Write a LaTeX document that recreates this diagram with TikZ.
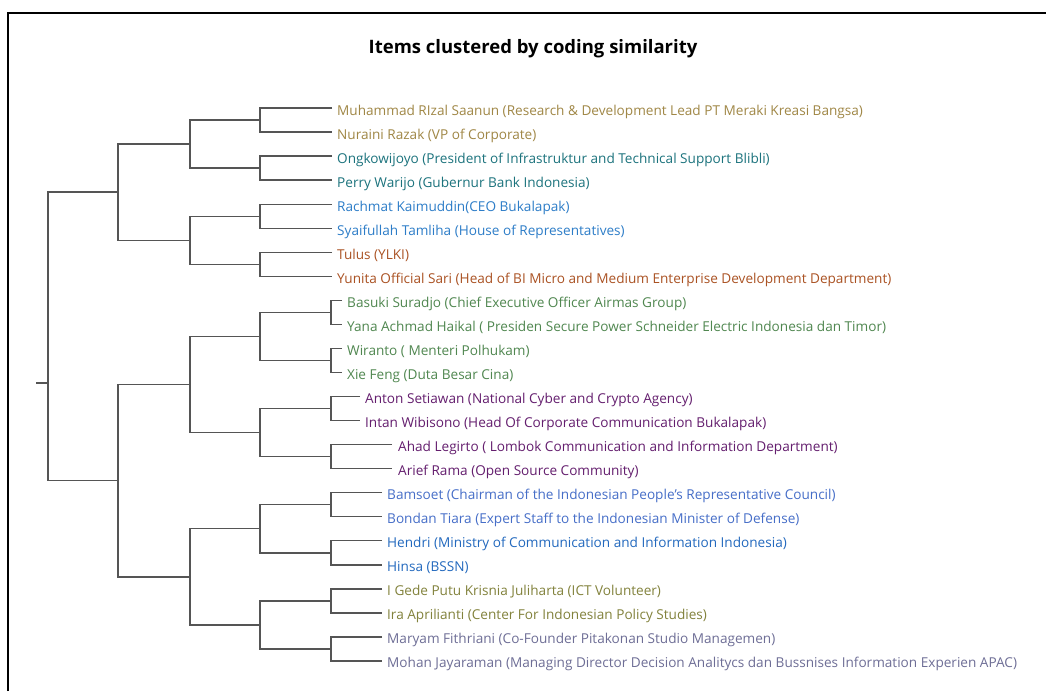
\documentclass[tikz,border=0pt]{standalone}
\usepackage{fontspec}
\setmainfont{Open Sans}
\definecolor{linegray}{RGB}{85,85,85}
\definecolor{cGold}{RGB}{160,135,70}
\definecolor{cTeal}{RGB}{28,115,125}
\definecolor{cBlue}{RGB}{45,125,200}
\definecolor{cRust}{RGB}{170,82,35}
\definecolor{cGreen}{RGB}{80,135,80}
\definecolor{cPurple}{RGB}{100,30,110}
\definecolor{cPeri}{RGB}{70,110,200}
\definecolor{cBlue2}{RGB}{35,105,190}
\definecolor{cOlive}{RGB}{130,130,60}
\definecolor{cSlate}{RGB}{110,110,150}
\begin{document}
\begin{tikzpicture}[x=1pt,y=-1pt,
  link/.style={draw=linegray, line width=1.4pt},
  leaf/.style={anchor=base west, inner sep=0pt, font=\fontsize{13.6}{16}\selectfont},
  frameline/.style={draw=black, line width=2pt}]
\useasboundingbox (0,0) rectangle (1046,691);
\fill[white] (0,0) rectangle (1046,691);
\draw[frameline] (8,691) -- (8,13) -- (1046,13);
\node[anchor=base, inner sep=0pt, font=\bfseries\fontsize{18.5}{22}\selectfont] (title) at (533,53) {Items clustered by coding similarity};

% leaf end coordinates and labels
\coordinate (t0) at (332,108.0);  \node[leaf, text=cGold] (n0) at (337,115.0) {Muhammad RIzal Saanun (Research \& Development Lead PT Meraki Kreasi Bangsa)};
\coordinate (t1) at (332,132.0);  \node[leaf, text=cGold] (n1) at (337,139.0) {Nuraini Razak (VP of Corporate)};
\coordinate (t2) at (332,156.1);  \node[leaf, text=cTeal] (n2) at (337,163.1) {Ongkowijoyo (President of Infrastruktur and Technical Support Blibli)};
\coordinate (t3) at (332,180.1);  \node[leaf, text=cTeal] (n3) at (337,187.1) {Perry Warijo (Gubernur Bank Indonesia)};
\coordinate (t4) at (332,204.2);  \node[leaf, text=cBlue] (n4) at (337,211.2) {Rachmat Kaimuddin(CEO Bukalapak)};
\coordinate (t5) at (332,228.2);  \node[leaf, text=cBlue] (n5) at (337,235.2) {Syaifullah Tamliha (House of Representatives)};
\coordinate (t6) at (332,252.2);  \node[leaf, text=cRust] (n6) at (337,259.2) {Tulus (YLKI)};
\coordinate (t7) at (332,276.3);  \node[leaf, text=cRust] (n7) at (337,283.3) {Yunita Official Sari (Head of BI Micro and Medium Enterprise Development Department)};
\coordinate (t8) at (342,300.3);  \node[leaf, text=cGreen] (n8) at (347,307.3) {Basuki Suradjo (Chief Executive Officer Airmas Group)};
\coordinate (t9) at (342,324.4);  \node[leaf, text=cGreen] (n9) at (347,331.4) {Yana Achmad Haikal ( Presiden Secure Power Schneider Electric Indonesia dan Timor)};
\coordinate (t10) at (342,348.4); \node[leaf, text=cGreen] (n10) at (347,355.4) {Wiranto ( Menteri Polhukam)};
\coordinate (t11) at (342,372.4); \node[leaf, text=cGreen] (n11) at (347,379.4) {Xie Feng (Duta Besar Cina)};
\coordinate (t12) at (360,396.5); \node[leaf, text=cPurple] (n12) at (365,403.5) {Anton Setiawan (National Cyber and Crypto Agency)};
\coordinate (t13) at (360,420.5); \node[leaf, text=cPurple] (n13) at (365,427.5) {Intan Wibisono (Head Of Corporate Communication Bukalapak)};
\coordinate (t14) at (392,444.6); \node[leaf, text=cPurple] (n14) at (398,451.6) {Ahad Legirto ( Lombok Communication and Information Department)};
\coordinate (t15) at (392,468.6); \node[leaf, text=cPurple] (n15) at (398,475.6) {Arief Rama (Open Source Community)};
\coordinate (t16) at (382,492.6); \node[leaf, text=cPeri] (n16) at (387,499.6) {Bamsoet (Chairman of the Indonesian People's Representative Council)};
\coordinate (t17) at (382,516.7); \node[leaf, text=cPeri] (n17) at (387,523.7) {Bondan Tiara (Expert Staff to the Indonesian Minister of Defense)};
\coordinate (t18) at (382,540.7); \node[leaf, text=cBlue2] (n18) at (387,547.7) {Hendri (Ministry of Communication and Information Indonesia)};
\coordinate (t19) at (382,564.8); \node[leaf, text=cBlue2] (n19) at (387,571.8) {Hinsa (BSSN)};
\coordinate (t20) at (382,588.8); \node[leaf, text=cOlive] (n20) at (387,595.8) {I Gede Putu Krisnia Juliharta (ICT Volunteer)};
\coordinate (t21) at (382,612.8); \node[leaf, text=cOlive] (n21) at (387,619.8) {Ira Aprilianti (Center For Indonesian Policy Studies)};
\coordinate (t22) at (382,636.9); \node[leaf, text=cSlate] (n22) at (387,643.9) {Maryam Fithriani (Co-Founder Pitakonan Studio Managemen)};
\coordinate (t23) at (382,660.9); \node[leaf, text=cSlate] (n23) at (387,667.9) {Mohan Jayaraman (Managing Director Decision Analitycs dan Bussnises Information Experien APAC)};

% internal junctions
\coordinate (a1) at (260,120.0);
\coordinate (a2) at (260,168.1);
\coordinate (a3) at (260,216.2);
\coordinate (a4) at (260,264.3);
\coordinate (b1) at (190,144.0);
\coordinate (b2) at (190,240.2);
\coordinate (c1) at (118,192.1);
\coordinate (d1) at (331,312.4);
\coordinate (d2) at (331,360.4);
\coordinate (d3) at (331,408.5);
\coordinate (d4) at (331,456.6);
\coordinate (d5) at (331,504.7);
\coordinate (d6) at (331,552.8);
\coordinate (d7) at (331,600.8);
\coordinate (d8) at (331,648.9);
\coordinate (e1) at (260,336.4);
\coordinate (e2) at (260,432.6);
\coordinate (e3) at (260,528.7);
\coordinate (e4) at (260,624.8);
\coordinate (f1) at (190,384.5);
\coordinate (f2) at (190,576.8);
\coordinate (c2) at (118,480.7);
\coordinate (root) at (48,383);
\coordinate (stub) at (36,383);

% connectors
\draw[link] (t0) -| (a1) |- (t1);
\draw[link] (t2) -| (a2) |- (t3);
\draw[link] (t4) -| (a3) |- (t5);
\draw[link] (t6) -| (a4) |- (t7);
\draw[link] (a1) -| (b1) |- (a2);
\draw[link] (a3) -| (b2) |- (a4);
\draw[link] (b1) -| (c1) |- (b2);
\draw[link] (t8) -| (d1) |- (t9);
\draw[link] (t10) -| (d2) |- (t11);
\draw[link] (t12) -| (d3) |- (t13);
\draw[link] (t14) -| (d4) |- (t15);
\draw[link] (t16) -| (d5) |- (t17);
\draw[link] (t18) -| (d6) |- (t19);
\draw[link] (t20) -| (d7) |- (t21);
\draw[link] (t22) -| (d8) |- (t23);
\draw[link] (d1) -| (e1) |- (d2);
\draw[link] (d3) -| (e2) |- (d4);
\draw[link] (d5) -| (e3) |- (d6);
\draw[link] (d7) -| (e4) |- (d8);
\draw[link] (e1) -| (f1) |- (e2);
\draw[link] (e3) -| (f2) |- (e4);
\draw[link] (f1) -| (c2) |- (f2);
\draw[link] (c1) -| (root) |- (c2);
\draw[link] (stub) -- (root);
\end{tikzpicture}
\end{document}
